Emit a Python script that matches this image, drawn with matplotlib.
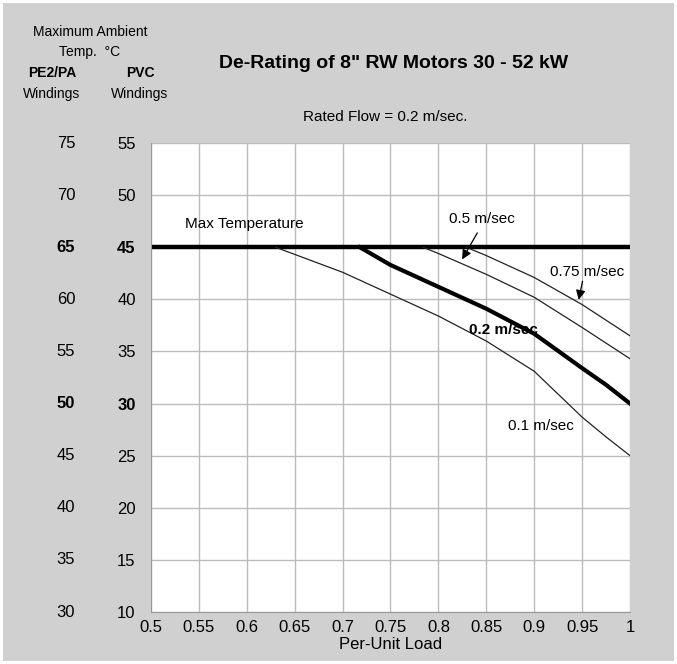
import matplotlib.pyplot as plt
import matplotlib.transforms as mtransforms

plt.rcParams['font.family'] = ['Liberation Sans', 'DejaVu Sans']

# valores (temperatura PVC, PE2/PA = PVC + 20)
carga_01 = [0.63, 0.70, 0.75, 0.80, 0.85, 0.90, 0.925, 0.95, 0.975, 1.00]
temp_01 = [45, 42.6, 40.5, 38.4, 36.0, 33.1, 30.9, 28.7, 26.8, 25.0]

carga_02 = [0.718, 0.75, 0.80, 0.85, 0.90, 0.95, 0.975, 1.00]
temp_02 = [45, 43.3, 41.2, 39.1, 36.7, 33.4, 31.8, 30.0]

carga_05 = [0.784, 0.80, 0.85, 0.90, 0.95, 1.00]
temp_05 = [45, 44.4, 42.4, 40.2, 37.3, 34.3]

carga_075 = [0.829, 0.85, 0.90, 0.95, 1.00]
temp_075 = [45, 44.2, 42.1, 39.5, 36.5]

carga_max = [0.5, 1.0]
temp_max = [45, 45]

x_ticks = [0.5, 0.55, 0.6, 0.65, 0.7, 0.75, 0.8, 0.85, 0.9, 0.95, 1.0]
x_labels = ['0.5', '0.55', '0.6', '0.65', '0.7', '0.75', '0.8', '0.85', '0.9', '0.95', '1']
pvc = [10, 15, 20, 25, 30, 35, 40, 45, 50, 55]
pe = [30, 35, 40, 45, 50, 55, 60, 65, 70, 75]
negrita = [30, 45]

gris = '#d0d0d0'
fig = plt.figure(figsize=(6.77, 6.64), dpi=100, facecolor=gris,
                 edgecolor='white', linewidth=3)
ax = fig.add_axes([0.223, 0.0783, 0.7076, 0.7063])
ax.set_facecolor('white')

ax.plot(carga_max, temp_max, color='black', lw=3.2, solid_capstyle='butt')
ax.plot(carga_01, temp_01, color='#222222', lw=0.9)
ax.plot(carga_02, temp_02, color='black', lw=3.0)
ax.plot(carga_05, temp_05, color='#222222', lw=0.9)
ax.plot(carga_075, temp_075, color='#222222', lw=0.9)

ax.set_xlim(0.5, 1.0)
ax.set_ylim(10, 55)
ax.set_xticks(x_ticks)
ax.set_xticklabels(x_labels, fontsize=12)
ax.set_yticks(pvc)
ax.set_yticklabels([str(v) for v in pvc], fontsize=12)
for lab, v in zip(ax.get_yticklabels(), pvc):
    if v in negrita:
        lab.set_fontweight('bold')
ax.tick_params(length=0, pad=6)
ax.tick_params(axis='y', pad=11)
ax.grid(True, color='#bcbcbc', lw=1)
ax.set_axisbelow(True)
for s in ['top', 'right']:
    ax.spines[s].set_visible(False)
for s in ['left', 'bottom']:
    ax.spines[s].set_color('#999999')

# columna PE2/PA
tr = mtransforms.blended_transform_factory(fig.transFigure, ax.transData)
for p, v in zip(pe, pvc):
    ax.text(66 / 677, v, str(p), transform=tr, ha='center', va='center', fontsize=12,
            fontweight='bold' if v in negrita else 'normal')

ax.set_xlabel('Per-Unit Load', fontsize=12, labelpad=1)

# textos de cabecera
fig.text(90 / 677, 1 - 32 / 664, 'Maximum Ambient', ha='center', va='center', fontsize=10)
fig.text(90 / 677, 1 - 52 / 664, 'Temp.  °C', ha='center', va='center', fontsize=10)
fig.text(52 / 677, 1 - 73 / 664, 'PE2/PA', ha='center', va='center', fontsize=10, fontweight='bold')
fig.text(140 / 677, 1 - 73 / 664, 'PVC', ha='center', va='center', fontsize=10, fontweight='bold')
fig.text(52 / 677, 1 - 94 / 664, 'Windings', ha='center', va='center', fontsize=10)
fig.text(140 / 677, 1 - 94 / 664, 'Windings', ha='center', va='center', fontsize=10)
fig.text(394 / 677, 1 - 63 / 664, 'De-Rating of 8" RW Motors 30 - 52 kW', ha='center', va='center',
         fontsize=14, fontweight='bold')
fig.text(385 / 677, 1 - 117 / 664, 'Rated Flow = 0.2 m/sec.', ha='center', va='center', fontsize=11)

# etiquetas de curvas
ax.text(0.5355, 47.2, 'Max Temperature', ha='left', va='center', fontsize=11)
ax.text(0.8107, 47.7, '0.5 m/sec', ha='left', va='center', fontsize=11)
ax.text(0.916, 42.6, '0.75 m/sec', ha='left', va='center', fontsize=11)
ax.text(0.8316, 37.05, '0.2 m/sec', ha='left', va='center', fontsize=11, fontweight='bold')
ax.text(0.8723, 27.8, '0.1 m/sec', ha='left', va='center', fontsize=11)
flecha = dict(arrowstyle='-|>', color='black', lw=0.9, mutation_scale=14)
ax.annotate('', xy=(0.8233, 43.6), xytext=(0.842, 46.6), arrowprops=flecha)
ax.annotate('', xy=(0.9459, 39.7), xytext=(0.951, 42.0), arrowprops=flecha)

fig.savefig('out.png', dpi=100, facecolor=gris)
